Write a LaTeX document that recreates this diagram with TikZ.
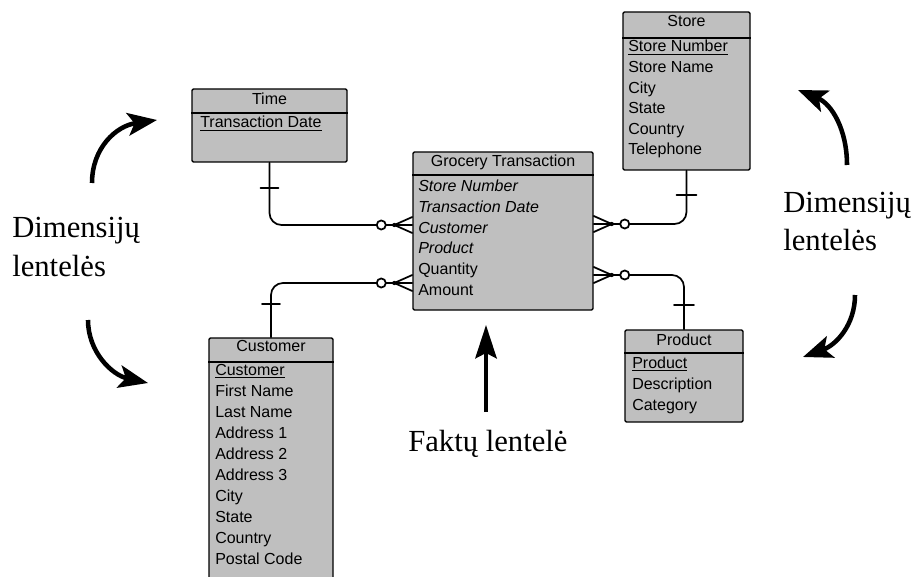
\documentclass[tikz,border=0pt]{standalone}
\usepackage{fontspec}
\setmainfont{Liberation Serif}
\newfontfamily\erfont{Liberation Sans}
\usetikzlibrary{arrows.meta,calc,fit}

\tikzset{
  entity/.style={draw=black, line width=1.1pt, fill=black!25, rounded corners=1pt, inner sep=0pt},
  sepline/.style={line width=1.1pt},
  attr/.style={font=\erfont\fontsize{12}{13}\selectfont, inner sep=0pt, anchor=base west},
  headtext/.style={font=\erfont\fontsize{12}{13}\selectfont, inner sep=0pt, anchor=base},
  rel/.style={line width=1.3pt, line cap=round},
  bigarrow/.style={line width=3.4pt, -{Stealth[length=22pt,width=17pt,inset=5pt]}},
  dimtext/.style={font=\fontsize{23}{28}\selectfont, inner sep=0pt, anchor=base west},
  crowfoot/.pic={
    \draw[rel] (-18,0) -- (0,-8) (-18,0) -- (0,0) (-18,0) -- (0,8);
    \draw[rel] (-26.5,0) -- (-18,0);
    \fill (-18,0) circle[radius=1.6pt];
    \draw[rel, fill=white] (-31,0) circle[radius=3.4pt];
  }
}

\begin{document}
\begin{tikzpicture}[x=0.75pt,y=-0.75pt]
\useasboundingbox (0,0) rectangle (920,577);
\clip (0,0) rectangle (920,577);

% ---------- Time ----------
\node[entity, fit={(192,89) (347,162)}] (time) {};
\draw[sepline] (time.west |- 0,113) -- (time.east |- 0,113);
\node[headtext] (timeT) at (269.5,105) {Time};
\node[attr] (time1) at (200,128) {\underline{Transaction Date}};

% ---------- Grocery Transaction ----------
\node[entity, fit={(413,152) (593,310)}] (gt) {};
\draw[sepline] (gt.west |- 0,175) -- (gt.east |- 0,175);
\node[headtext] (gtT) at (503,167) {Grocery Transaction};
\node[attr] (gt1) at (418,192)   {\itshape Store Number};
\node[attr] (gt2) at (418,212.6) {\itshape Transaction Date};
\node[attr] (gt3) at (418,233.2) {\itshape Customer};
\node[attr] (gt4) at (418,253.8) {\itshape Product};
\node[attr] (gt5) at (418,274.4) {Quantity};
\node[attr] (gt6) at (418,295)   {Amount};

% ---------- Store ----------
\node[entity, fit={(623,12) (750,170)}] (store) {};
\draw[sepline] (store.west |- 0,38) -- (store.east |- 0,38);
\node[headtext] (storeT) at (686.5,27) {Store};
\node[attr] (store1) at (628,52)    {\underline{Store Number}};
\node[attr] (store2) at (628,72.6)  {Store Name};
\node[attr] (store3) at (628,93.2)  {City};
\node[attr] (store4) at (628,113.8) {State};
\node[attr] (store5) at (628,134.4) {Country};
\node[attr] (store6) at (628,155)   {Telephone};

% ---------- Customer ----------
\node[entity, fit={(209,338) (333,600)}] (cust) {};
\draw[sepline] (cust.west |- 0,362) -- (cust.east |- 0,362);
\node[headtext] (custT) at (271,351) {Customer};
\node[attr] (cust1)  at (215,375)   {\underline{Customer}};
\node[attr] (cust2)  at (215,396.1) {First Name};
\node[attr] (cust3)  at (215,417.2) {Last Name};
\node[attr] (cust4)  at (215,438.3) {Address 1};
\node[attr] (cust5)  at (215,459.4) {Address 2};
\node[attr] (cust6)  at (215,480.5) {Address 3};
\node[attr] (cust7)  at (215,501.6) {City};
\node[attr] (cust8)  at (215,522.7) {State};
\node[attr] (cust9)  at (215,543.8) {Country};
\node[attr] (cust10) at (215,564.9) {Postal Code};

% ---------- Product ----------
\node[entity, fit={(625,330) (743,422)}] (prod) {};
\draw[sepline] (prod.west |- 0,353) -- (prod.east |- 0,353);
\node[headtext] (prodT) at (684,345) {Product};
\node[attr] (prod1) at (632,368) {\underline{Product}};
\node[attr] (prod2) at (632,389) {Description};
\node[attr] (prod3) at (632,410) {Category};

% ---------- relationships ----------
\coordinate (cfT) at (gt.west |- 0,225);
\coordinate (cfC) at (gt.west |- 0,283);
\coordinate (cfS) at (gt.east |- 0,224);
\coordinate (cfP) at (gt.east |- 0,275);

\draw[rel, rounded corners=9pt] (time.south) |- ($(cfT)+(-35.5,0)$);
\draw[rel] ($(time.south)+(-9,25)$) -- ++(18,0);
\pic at (cfT) {crowfoot};

\draw[rel, rounded corners=9pt] (cust.north) |- ($(cfC)+(-35.5,0)$);
\draw[rel] ($(cust.north)+(-9,-33)$) -- ++(18,0);
\pic at (cfC) {crowfoot};

\draw[rel, rounded corners=9pt] (store.south) |- ($(cfS)+(35.5,0)$);
\draw[rel] ($(store.south)+(-10,24)$) -- ++(20,0);
\pic[xscale=-1] at (cfS) {crowfoot};

\draw[rel, rounded corners=9pt] (prod.north) |- ($(cfP)+(35.5,0)$);
\draw[rel] ($(prod.north)+(-10,-24)$) -- ++(20,0);
\pic[xscale=-1] at (cfP) {crowfoot};

% ---------- pointers and captions ----------
\coordinate (aLT0) at (92,183);  \coordinate (aLT1) at (157,120);
\coordinate (aLB0) at (88,320);  \coordinate (aLB1) at (148,383);
\coordinate (aRT0) at (847,165); \coordinate (aRT1) at (798,90);
\coordinate (aRB0) at (855,295); \coordinate (aRB1) at (803,357);
\coordinate (aC0)  at (486,412); \coordinate (aC1)  at (486,325);

\draw[bigarrow] (aLT0) .. controls (92,148) and (116,126) .. (aLT1);
\draw[bigarrow] (aLB0) .. controls (88,352) and (112,375) .. (aLB1);
\draw[bigarrow] (aRT0) .. controls (847,130) and (832,104) .. (aRT1);
\draw[bigarrow] (aRB0) .. controls (855,325) and (836,345) .. (aRB1);
\draw[line width=3pt, -{Stealth[length=25pt,width=16pt,inset=4pt]}] (aC0) -- (aC1);

\node[dimtext] (dimL1) at (12,238)  {Dimensijų};
\node[dimtext] (dimL2) at (12,276)  {lentelės};
\node[dimtext] (dimR1) at (783,213) {Dimensijų};
\node[dimtext] (dimR2) at (783,250) {lentelės};
\node[dimtext] (fakt)  at (408,451) {Faktų lentelė};
\end{tikzpicture}
\end{document}
